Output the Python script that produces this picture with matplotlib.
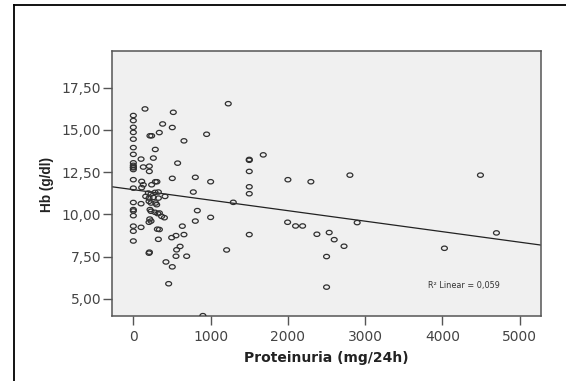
import matplotlib
matplotlib.use("Agg")
import matplotlib.pyplot as plt
from matplotlib.path import Path
from matplotlib.transforms import Affine2D
from matplotlib.lines import Line2D
import numpy as np

# ---- data ----
proteinuria = [
    0, 0, 0, 0, 0, 0, 0, 0, 0, 0, 0, 0, 0, 0, 0, 0, 0, 0, 0, 0, 0,
    151, 517, 1228,
    504, 379, 336, 215, 237, 948, 655,
    284, 100, 259, 573, 1500, 1500, 1681,
    129, 207, 207, 1500,
    504, 802, 1000, 2000, 2297, 2802, 4491,
    108, 129, 237, 285, 305,
    108, 1500, 1500, 776, 1293,
    194, 229, 281, 324, 410,
    160, 203, 259, 324,
    100, 203, 229, 289, 302,
    216, 229, 280, 316, 337,
    402, 366,
    212, 229, 203,
    100, 311, 337,
    324, 496, 552, 634, 655,
    605, 560, 552, 690,
    203, 208,
    422, 504, 457, 900,
    828, 802, 1000,
    1207, 1500,
    1996, 2099, 2190,
    2375, 2534, 2599, 2726, 2500, 2500, 2896,
    4025, 4698,
]
hb = [
    15.85, 15.55, 15.15, 14.85, 14.45, 13.95, 13.55, 13.05, 12.9, 12.8, 12.75,
    12.65, 12.05, 11.55, 10.7, 10.28, 10.2, 9.92, 9.3, 9.0, 8.42,
    16.24, 16.04, 16.55,
    15.14, 15.35, 14.84, 14.65, 14.65, 14.74, 14.35,
    13.84, 13.27, 13.33, 13.03, 13.2, 13.25, 13.52,
    12.8, 12.85, 12.54, 12.54,
    12.13, 12.19, 11.93, 12.05, 11.93, 12.32, 12.32,
    11.95, 11.75, 11.75, 11.93, 11.93,
    11.58, 11.63, 11.22, 11.32, 10.71,
    11.26, 11.2, 11.3, 11.32, 11.06,
    11.06, 10.96, 11.0, 10.96,
    10.63, 10.77, 10.67, 10.67, 10.57,
    10.28, 10.18, 10.12, 10.04, 10.08,
    9.8, 9.88,
    9.72, 9.6, 9.53,
    9.23, 9.12, 9.1,
    8.52, 8.62, 8.74, 9.3, 8.8,
    8.1, 7.9, 7.52, 7.52,
    7.7, 7.76,
    7.18, 6.89, 5.89, 4.0,
    10.22, 9.6, 9.82,
    7.89, 8.8,
    9.53, 9.31, 9.31,
    8.82, 8.92, 8.5, 8.11, 7.5, 5.69, 9.51,
    7.99, 8.9,
]
fit_intercept = 11.46
fit_slope = -0.000622
r2_text = "R\u00b2 Linear = 0,059"

x_ticks = [0, 1000, 2000, 3000, 4000, 5000]
y_ticks = [5.0, 7.5, 10.0, 12.5, 15.0, 17.5]
y_ticklabels = ["5,00", "7,50", "10,00", "12,50", "15,00", "17,50"]
x_label = "Proteinuria (mg/24h)"
y_label = "Hb (g/dl)"

# ---- figure ----
W, H = 566, 381
fig = plt.figure(figsize=(W / 100, H / 100), dpi=100)
fig.patch.set_facecolor("white")

# outer frame (left and top lines)
fig.add_artist(Line2D([14 / W, 14 / W], [0, 1 - 5 / H], color="black", lw=1.3,
                      transform=fig.transFigure))
fig.add_artist(Line2D([14 / W, 1], [1 - 5 / H, 1 - 5 / H], color="black", lw=1.3,
                      transform=fig.transFigure))

left, right, top, bottom = 112, 540.5, 51, 316
ax = fig.add_axes([left / W, 1 - bottom / H, (right - left) / W, (bottom - top) / H])
ax.set_facecolor("#f0f0f0")

ell = Path.unit_circle().transformed(Affine2D().scale(1.35, 1.0))
ax.scatter(proteinuria, hb, marker=ell, s=18, facecolors="none",
           edgecolors="#303030", linewidths=0.9, zorder=3, clip_on=True)

xlim = (-276, 5268)
ax.set_xlim(*xlim)
ax.set_ylim(3.98, 19.67)
xx = np.array(xlim)
ax.plot(xx, fit_intercept + fit_slope * xx, color="#222222", lw=0.9, zorder=2)

ax.text(3817, 5.79, r2_text, fontsize=5.9, color="#333333", ha="left", va="center",
        family="DejaVu Sans")

ax.set_xticks(x_ticks)
ax.set_xticklabels([str(t) for t in x_ticks])
ax.set_yticks(y_ticks)
ax.set_yticklabels(y_ticklabels)
ax.tick_params(axis="both", direction="out", length=6.8, width=1.0, color="#555555",
               labelsize=10, labelcolor="#444444")
ax.tick_params(axis="y", pad=1.0)
ax.tick_params(axis="x", pad=3.0)
for lab in ax.get_xticklabels() + ax.get_yticklabels():
    lab.set_family("DejaVu Sans")

for s in ax.spines.values():
    s.set_color("#555555")
    s.set_linewidth(1.1)

ax.set_xlabel(x_label, fontsize=10, fontweight="bold", family="DejaVu Sans", color="#222222")
ax.xaxis.set_label_coords(0.5, -(351 - bottom) / (bottom - top))
fig.text(47 / W, 1 - 184.5 / H, y_label, rotation=90, ha="center", va="center",
         fontsize=9.8, fontweight="bold", family="Liberation Sans", color="#222222")

fig.savefig("out.png", dpi=100)
